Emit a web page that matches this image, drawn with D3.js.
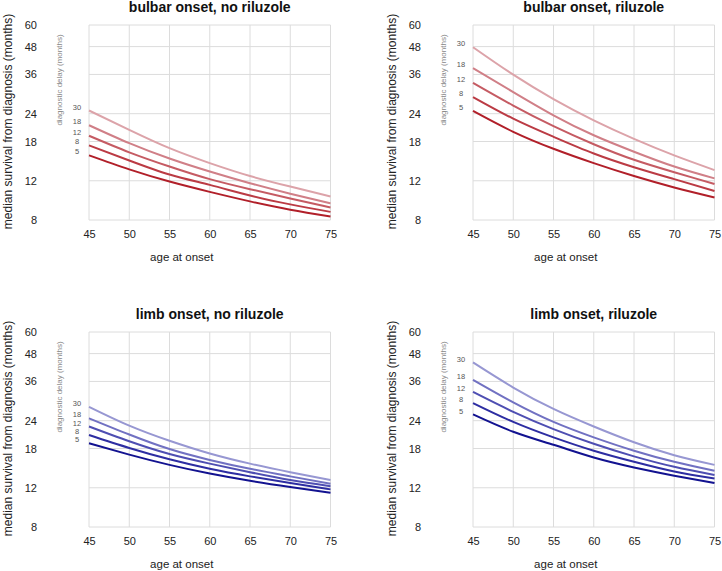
<!DOCTYPE html>
<html>
<head>
<meta charset="utf-8">
<script src="https://cdn.jsdelivr.net/npm/d3@7"></script>
<style>
  body { margin: 0; background: #fff; }
  text { font-family: "Liberation Sans", Arial, sans-serif; }
</style>
</head>
<body>
<script>
//----------------- data -----------------

const ages = [45, 50, 55, 60, 65, 70, 75];
const delays = [30, 18, 12, 8, 5];
const yTicks = [8, 12, 18, 24, 36, 48, 60];
const xTicks = [45, 50, 55, 60, 65, 70, 75];

// one row per diagnostic delay (30, 18, 12, 8, 5), one value per age
const bulbarNoRiluzole = [
  [24.8, 20.3, 16.8, 14.4, 12.6, 11.3, 10.2],
  [21.3, 17.7, 15.1, 13.2, 11.7, 10.5, 9.5],
  [19.1, 16.1, 13.9, 12.2, 11.0, 10.0, 9.1],
  [17.3, 14.8, 12.8, 11.5, 10.3, 9.4, 8.7],
  [15.6, 13.5, 11.9, 10.7, 9.7, 8.9, 8.3]
];
const bulbarRiluzole = [
  [47.7, 35.9, 27.9, 22.4, 18.5, 15.6, 13.4],
  [38.4, 30.0, 23.6, 19.2, 16.2, 13.9, 12.3],
  [33.0, 26.1, 21.1, 17.5, 14.9, 13.1, 11.6],
  [28.5, 22.8, 18.9, 15.9, 13.8, 12.2, 10.8],
  [24.7, 19.9, 16.7, 14.4, 12.6, 11.2, 10.1]
];
const limbNoRiluzole = [
  [27.7, 22.8, 19.5, 17.1, 15.4, 14.1, 13.0],
  [24.6, 20.8, 17.9, 16.0, 14.6, 13.5, 12.5],
  [22.6, 19.4, 17.0, 15.4, 14.1, 13.0, 12.2],
  [20.7, 18.1, 16.1, 14.6, 13.5, 12.6, 11.8],
  [19.0, 16.9, 15.2, 13.9, 12.9, 12.1, 11.4]
];
const limbRiluzole = [
  [43.8, 33.8, 27.1, 22.6, 19.2, 16.8, 15.2],
  [36.6, 29.0, 23.7, 20.2, 17.6, 15.7, 14.3],
  [32.3, 26.3, 22.0, 18.9, 16.6, 14.9, 13.7],
  [28.8, 23.7, 20.2, 17.6, 15.7, 14.2, 13.2],
  [25.6, 21.4, 18.7, 16.4, 14.8, 13.6, 12.6]
];

const redShades = ["#dca3a9", "#d07f87", "#c55b63", "#bb3b44", "#b11f29"];
const blueShades = ["#9797d2", "#7171c2", "#4e4eb2", "#2d2da2", "#121290"];

//----------------- layout -----------------

const width = 722;
const height = 571;
const plotW = 241.5;
const plotH = 195;

const panels = [
  { title: "bulbar onset, no riluzole", values: bulbarNoRiluzole, colors: redShades, left: 89, top: 25 },
  { title: "bulbar onset, riluzole", values: bulbarRiluzole, colors: redShades, left: 473, top: 25 },
  { title: "limb onset, no riluzole", values: limbNoRiluzole, colors: blueShades, left: 89, top: 332 },
  { title: "limb onset, riluzole", values: limbRiluzole, colors: blueShades, left: 473, top: 332 }
];

const svg = d3.select("body").append("svg").attr("width", width).attr("height", height);

panels.forEach((p) => {
  const x = d3.scaleLinear().domain([45, 75]).range([p.left, p.left + plotW]);
  const y = d3.scaleLog().domain([8, 60]).range([p.top + plotH, p.top]);
  const g = svg.append("g");

  //----------- grid -----------
  const grid = g.append("g").attr("stroke", "#dcdcdc").attr("stroke-width", 1);
  grid.selectAll(".vg")
    .data(xTicks)
    .enter()
    .append("line")
    .attr("x1", (d) => x(d))
    .attr("x2", (d) => x(d))
    .attr("y1", p.top)
    .attr("y2", p.top + plotH);
  grid.selectAll(".hg")
    .data(yTicks)
    .enter()
    .append("line")
    .attr("x1", p.left)
    .attr("x2", p.left + plotW)
    .attr("y1", (d) => y(d))
    .attr("y2", (d) => y(d));

  //----------- axes -----------
  const xAxis = d3.axisBottom(x).tickValues(xTicks).tickSize(0).tickPadding(10).tickFormat(d3.format("d"));
  g.append("g")
    .attr("transform", "translate(0," + (p.top + plotH) + ")")
    .call(xAxis)
    .call((a) => a.select(".domain").remove())
    .attr("font-family", "Liberation Sans, Arial, sans-serif")
    .attr("font-size", 11)
    .selectAll("text").attr("fill", "#222");

  const yAxis = d3.axisLeft(y).tickValues(yTicks).tickSize(0).tickPadding(52).tickFormat(d3.format("d"));
  g.append("g")
    .attr("transform", "translate(" + p.left + ",0)")
    .call(yAxis)
    .call((a) => a.select(".domain").remove())
    .attr("font-family", "Liberation Sans, Arial, sans-serif")
    .attr("font-size", 11)
    .selectAll("text").attr("fill", "#222");

  //----------- titles -----------
  g.append("text")
    .text(p.title)
    .attr("x", p.left + plotW / 2)
    .attr("y", p.top - 13)
    .attr("text-anchor", "middle")
    .attr("font-size", 14)
    .attr("font-weight", "bold")
    .attr("fill", "#111");

  g.append("text")
    .text("age at onset")
    .attr("x", p.left + plotW / 2 - 28)
    .attr("y", p.top + plotH + 41)
    .attr("text-anchor", "middle")
    .attr("font-size", 11.5)
    .attr("fill", "#222");

  g.append("text")
    .text("median survival from diagnosis (months)")
    .attr("transform", "translate(" + (p.left - 81) + "," + (p.top + plotH / 2 - 1) + ") rotate(-90)")
    .attr("dy", "0.35em")
    .attr("text-anchor", "middle")
    .attr("font-size", 12)
    .attr("fill", "#222");

  //----------- curves -----------
  const line = d3.line()
    .x((d, i) => x(ages[i]))
    .y((d) => y(d))
    .curve(d3.curveNatural);

  g.selectAll(".curve")
    .data(p.values)
    .enter()
    .append("path")
    .attr("d", line)
    .attr("fill", "none")
    .attr("stroke", (d, i) => p.colors[i])
    .attr("stroke-width", 2);

  //----------- legend -----------
  g.append("text")
    .text("diagnostic delay (months)")
    .attr("transform", "translate(" + (p.left - 30) + "," + (p.top + 55) + ") rotate(-90)")
    .attr("dy", "0.35em")
    .attr("text-anchor", "middle")
    .attr("font-size", 8)
    .attr("fill", "#888");

  g.selectAll(".lab")
    .data(p.values)
    .enter()
    .append("text")
    .text((d, i) => delays[i])
    .attr("x", p.left - 12)
    .attr("y", (d) => y(d[0]) - 3.5)
    .attr("dy", "0.35em")
    .attr("text-anchor", "middle")
    .attr("font-size", 7.5)
    .attr("fill", "#555");
});
</script>
</body>
</html>
